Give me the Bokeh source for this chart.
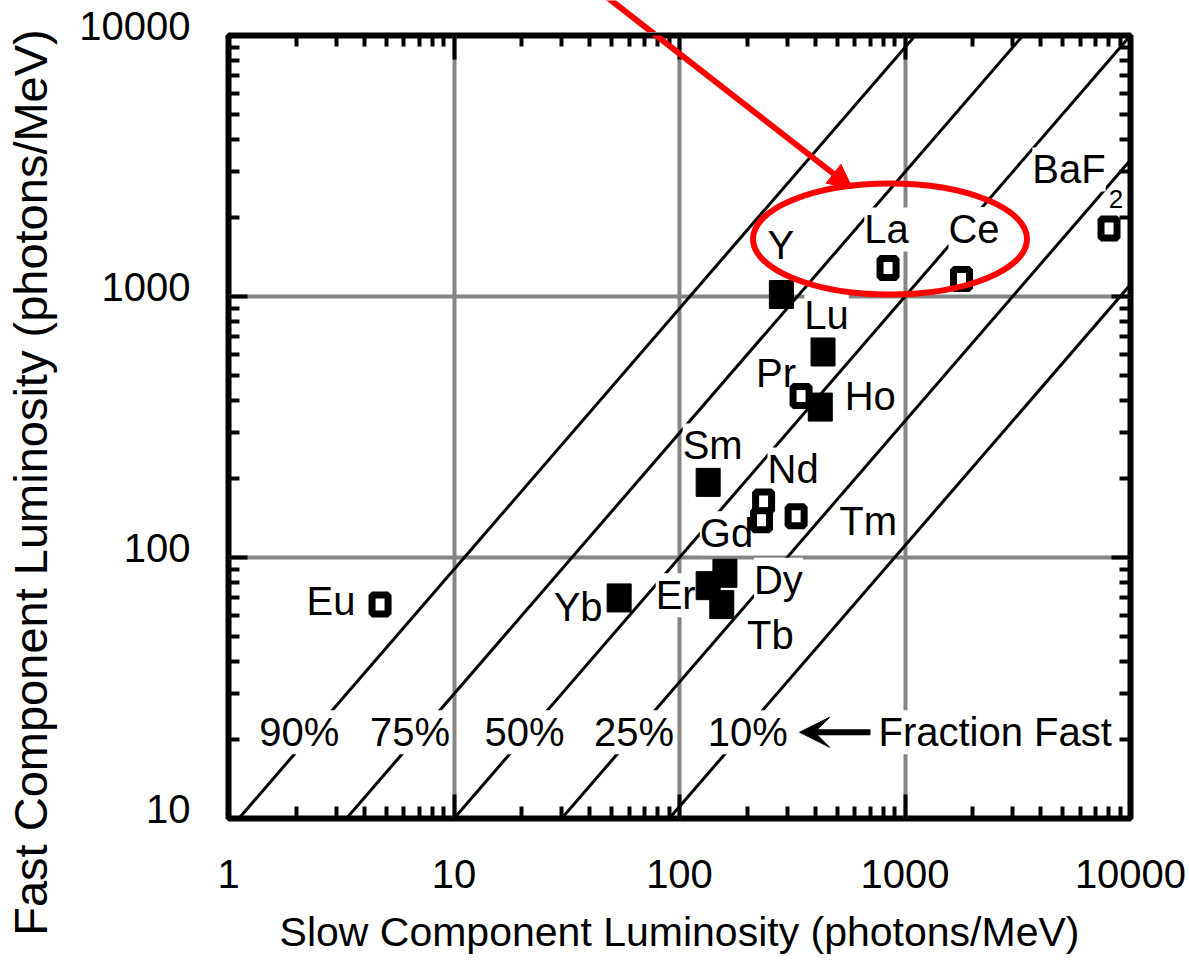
import math
from bokeh.plotting import figure
from bokeh.layouts import column, row
from bokeh.models import (FixedTicker, LogAxis, Label, Arrow, NormalHead, VeeHead,
                          ColumnDataSource, BasicTickFormatter, Range1d)
from bokeh.embed import file_html
from bokeh.resources import INLINE

# ---------------- data ----------------
elements = ["Y", "La", "Ce", "BaF", "Lu", "Pr", "Ho", "Sm", "Nd", "Gd", "Tm", "Dy", "Er", "Tb", "Yb", "Eu"]
slow_lum = [283, 841, 1781, 8030, 433, 346, 421, 134, 236, 231, 329, 159, 134, 154, 54, 4.7]
fast_lum = [1018, 1286, 1167, 1822, 613, 416, 377, 194, 164, 139, 144, 87, 78, 66, 70, 66]
filled = [True, False, False, False, True, False, True, True, False, False, False, True, True, True, True, False]

fractions = [0.90, 0.75, 0.50, 0.25, 0.10]
fraction_labels = ["90%", "75%", "50%", "25%", "10%"]

x_ticks = [1, 10, 100, 1000, 10000]
x_tick_labels = ["1", "10", "100", "1000", "10000"]
y_ticks = [10, 100, 1000, 10000]
y_tick_labels = ["10", "100", "1000", "10000"]

# ---------------- label placement (screen px offsets) ----------------
label_dx = [-0.5, -1.5, 12.5, -40, 3.5, -25, 50, 4.5, 29.5, -35, 72, 53.5, -32.5, 48.5, -41, -49]
label_dy = [49.5, 38.5, 50, 59, 37, 23, 10.7, 37, 32, -13, -4.5, -6.5, -9.5, -30, -9, 4]
frac_row_y = 21.4
frac_dx = [-14, -11, -4, -2, 4]

FONT = "Liberation Sans"
minor = [m * 10 ** k for k in range(0, 4) for m in range(2, 10)]

# ---------------- layout constants ----------------
H = 958
TITLE_W = 60           # strip holding the y title
LABELS_W = 140         # strip holding the y tick labels
W_MAIN = 986
FRAME_W, FRAME_H = 902, 783
BORDER_L = 228 - TITLE_W - LABELS_W
BORDER_R = W_MAIN - BORDER_L - FRAME_W
TOP_H = 32             # strip above the plot (tail of the red arrow)
MAIN_TOP = 3
BORDER_B = H - TOP_H - MAIN_TOP - FRAME_H
PPD = FRAME_H / 3.0    # pixels per decade on y
LABEL_LIFT = 10        # y tick labels sit a little above their ticks
YTITLE_TOP, YTITLE_LEN = 13, 914

# red arrow (annotation)
arrow_start = (43.7, 14874)
arrow_end = (585, 2593)

p = figure(x_axis_type="log", y_axis_type="log",
           x_range=(1, 10000), y_range=(10, 10000),
           frame_width=FRAME_W, frame_height=FRAME_H,
           min_border_left=BORDER_L, min_border_right=BORDER_R,
           min_border_top=MAIN_TOP, min_border_bottom=BORDER_B,
           output_backend="svg", toolbar_location=None, tools="")
p.background_fill_color = "white"
p.border_fill_color = "white"
p.outline_line_color = "black"
p.outline_line_width = 6

def style_axis(ax, major_in, minor_in, ticks, labels, size="40px"):
    ax.ticker = FixedTicker(ticks=ticks, minor_ticks=minor)
    ax.formatter = BasicTickFormatter()
    ax.major_label_overrides = {t: l for t, l in zip(ticks, labels)}
    ax.axis_line_color = None
    ax.major_tick_in = major_in
    ax.major_tick_out = 0
    ax.minor_tick_in = minor_in
    ax.minor_tick_out = 0
    ax.major_tick_line_width = 4
    ax.minor_tick_line_width = 4
    ax.major_tick_line_color = "black"
    ax.minor_tick_line_color = "black"
    ax.major_label_text_font = FONT
    ax.major_label_text_font_size = size
    ax.major_label_text_color = "black"
    ax.axis_label_text_font = FONT
    ax.axis_label_text_font_style = "normal"
    ax.axis_label_text_color = "black"

xa = p.xaxis[0]
style_axis(xa, 24, 12, x_ticks, x_tick_labels)
xa.major_label_standoff = 41
xa.axis_label = "Slow Component Luminosity (photons/MeV)"
xa.axis_label_text_font_size = "41px"
xa.axis_label_standoff = 18

ya = p.yaxis[0]
style_axis(ya, 19, 11, y_ticks, [""] * len(y_ticks), size="1px")
ya.major_label_standoff = 0

top_ax = LogAxis()
style_axis(top_ax, 24, 11, x_ticks, [""] * len(x_ticks), size="1px")
top_ax.major_label_standoff = 0
p.add_layout(top_ax, "above")
right_ax = LogAxis()
style_axis(right_ax, 19, 11, y_ticks, [""] * len(y_ticks), size="1px")
right_ax.major_label_standoff = 0
p.add_layout(right_ax, "right")

for g in (p.xgrid[0], p.ygrid[0]):
    g.grid_line_color = "#858585"
    g.grid_line_width = 4
p.xgrid[0].ticker = FixedTicker(ticks=x_ticks)
p.ygrid[0].ticker = FixedTicker(ticks=y_ticks)

# fraction-fast diagonal lines: F = S * f / (1 - f)
for f in fractions:
    xs = [x_ticks[0], x_ticks[-1]]
    ys = [s * f / (1 - f) for s in xs]
    p.line(xs, ys, line_color="black", line_width=3)

# element labels
for name, s, fl, dx, dy in zip(elements, slow_lum, fast_lum, label_dx, label_dy):
    p.add_layout(Label(x=s, y=fl, x_offset=dx, y_offset=dy, text=name,
                       text_align="center", text_baseline="middle",
                       text_font=FONT, text_font_size="40px", text_color="black",
                       background_fill_color="white"))
# BaF2 subscript
i_baf = elements.index("BaF")
p.add_layout(Label(x=slow_lum[i_baf], y=fast_lum[i_baf], x_offset=7, y_offset=29, text="2",
                   text_align="center", text_baseline="middle",
                   text_font=FONT, text_font_size="26px", text_color="black",
                   background_fill_color="white"))

# fraction labels on the lines
for f, lab, dx in zip(fractions, fraction_labels, frac_dx):
    p.add_layout(Label(x=frac_row_y * (1 - f) / f, y=frac_row_y, x_offset=dx, text=lab,
                       text_align="center", text_baseline="middle",
                       text_font=FONT, text_font_size="40px", text_color="black",
                       background_fill_color="white"))
p.add_layout(Label(x=763, y=frac_row_y, text="Fraction Fast",
                   text_align="left", text_baseline="middle",
                   text_font=FONT, text_font_size="40px", text_color="black",
                   background_fill_color="white"))
p.add_layout(Arrow(x_start=703, y_start=frac_row_y, x_end=341, y_end=frac_row_y,
                   line_color="black", line_width=6,
                   end=VeeHead(size=30, fill_color="black", line_color="black", line_width=1)))

# markers
src_f = ColumnDataSource(dict(x=[s for s, k in zip(slow_lum, filled) if k],
                              y=[v for v, k in zip(fast_lum, filled) if k]))
src_o = ColumnDataSource(dict(x=[s for s, k in zip(slow_lum, filled) if not k],
                              y=[v for v, k in zip(fast_lum, filled) if not k]))
r1 = p.rect("x", "y", source=src_f, width=24, height=28, width_units="screen", height_units="screen",
            fill_color="black", line_color="black", line_width=1)
r2 = p.rect("x", "y", source=src_o, width=16, height=19, width_units="screen", height_units="screen",
            fill_color="white", line_color="black", line_width=7)
r1.level = "overlay"
r2.level = "overlay"

# red highlight ellipse and arrow
e = p.ellipse(x=[858], y=[1661], width=274, height=111, width_units="screen", height_units="screen",
              fill_color=None, line_color="red", line_width=6)
e.level = "overlay"
red_arrow = Arrow(x_start=arrow_start[0], y_start=arrow_start[1], x_end=arrow_end[0], y_end=arrow_end[1],
                  line_color="red", line_width=6,
                  end=NormalHead(size=24, fill_color="red", line_color="red", line_width=1))
red_arrow.level = "overlay"
p.add_layout(red_arrow)

# ---------------- strip above the plot, carrying the tail of the red arrow ----------------
top = figure(x_axis_type="log", y_axis_type="log",
             x_range=p.x_range,
             y_range=Range1d(10 ** (4 + MAIN_TOP / PPD), 10 ** (4 + (MAIN_TOP + TOP_H) / PPD)),
             frame_width=FRAME_W, frame_height=TOP_H,
             min_border_left=BORDER_L, min_border_right=BORDER_R,
             min_border_top=0, min_border_bottom=0,
             x_axis_location=None, y_axis_location=None,
             output_backend="svg", toolbar_location=None, tools="")
top.outline_line_color = None
top.grid.visible = False
top.background_fill_color = "white"
top.border_fill_color = "white"
top.line([arrow_start[0], arrow_end[0]], [arrow_start[1], arrow_end[1]], line_color="red", line_width=6)

def blank(fig):
    fig.outline_line_color = None
    fig.grid.visible = False
    fig.background_fill_color = "white"
    fig.border_fill_color = "white"

# ---------------- y tick labels strip (same log scale, lifted a little) ----------------
lab_top = TOP_H + MAIN_TOP - LABEL_LIFT
ylab = figure(y_axis_type="log", y_range=(10, 10000), x_range=(0, 1),
              frame_width=1, frame_height=FRAME_H,
              min_border_left=LABELS_W - 1, min_border_right=0,
              min_border_top=lab_top, min_border_bottom=H - lab_top - FRAME_H,
              x_axis_location=None,
              output_backend="svg", toolbar_location=None, tools="")
blank(ylab)
la = ylab.yaxis[0]
style_axis(la, 0, 0, y_ticks, y_tick_labels)
la.major_tick_line_color = None
la.minor_tick_line_color = None
la.major_label_standoff = (TITLE_W + LABELS_W - 1) - 190

# ---------------- y title strip ----------------
ytit = figure(y_range=(0, 1), x_range=(0, 1),
              frame_width=1, frame_height=YTITLE_LEN,
              min_border_left=TITLE_W - 1, min_border_right=0,
              min_border_top=YTITLE_TOP, min_border_bottom=H - YTITLE_TOP - YTITLE_LEN,
              x_axis_location=None,
              output_backend="svg", toolbar_location=None, tools="")
blank(ytit)
ta = ytit.yaxis[0]
ta.ticker = FixedTicker(ticks=[])
ta.axis_line_color = None
ta.major_tick_line_color = None
ta.minor_tick_line_color = None
ta.major_label_standoff = 0
ta.axis_label = "Fast Component Luminosity (photons/MeV)"
ta.axis_label_text_font = FONT
ta.axis_label_text_font_style = "normal"
ta.axis_label_text_color = "black"
ta.axis_label_text_font_size = "47px"
ta.axis_label_standoff = 3

layout = row(ytit, ylab, column(top, p, spacing=0), spacing=0)
open("out.html", "w").write(file_html(layout, INLINE))
